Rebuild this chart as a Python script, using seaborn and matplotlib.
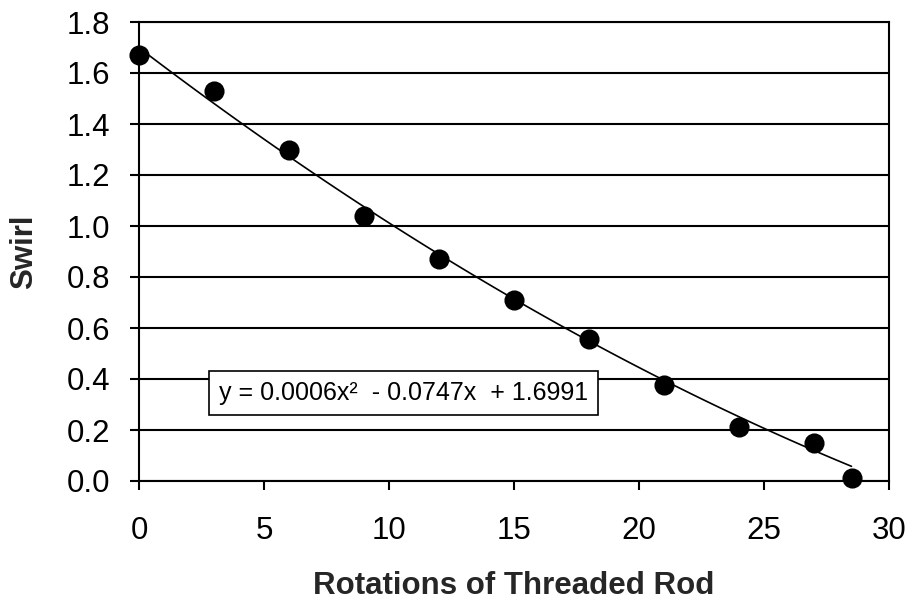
import numpy as np
import matplotlib
matplotlib.use("Agg")
import matplotlib.pyplot as plt
import seaborn as sns

# rotations of the threaded rod and measured swirl
rotations = [0, 3, 6, 9, 12, 15, 18, 21, 24, 27, 28.5]
swirl = [1.67, 1.53, 1.30, 1.04, 0.87, 0.71, 0.555, 0.375, 0.21, 0.15, 0.01]

# polynomial trendline coefficients (x^2, x, 1)
trend_coef = [0.0006, -0.0747, 1.6991]
trend_label = "y = 0.0006x\u00b2  - 0.0747x  + 1.6991"

x_ticks = [0, 5, 10, 15, 20, 25, 30]
y_ticks = [0.0, 0.2, 0.4, 0.6, 0.8, 1.0, 1.2, 1.4, 1.6, 1.8]

sns.set_theme(style="ticks")
plt.rcParams["font.family"] = ["Liberation Sans", "DejaVu Sans"]

fig, ax = plt.subplots(figsize=(9.13, 6.01), dpi=100)
fig.subplots_adjust(left=139 / 913, right=889 / 913, top=1 - 22 / 601, bottom=1 - 481 / 601)

for yv in y_ticks:
    ax.axhline(yv, color="black", lw=1.5, zorder=0)

trend_x = np.linspace(rotations[0], rotations[-1], 100)
trend_y = np.polyval(trend_coef, trend_x)
sns.lineplot(x=trend_x, y=trend_y, color="black", lw=1.2, ax=ax, zorder=2)
sns.scatterplot(x=rotations, y=swirl, color="black", s=180, edgecolor="black",
                ax=ax, zorder=3, clip_on=False)

ax.set_xlim(0, 30)
ax.set_ylim(0, 1.8)
ax.set_xticks(x_ticks)
ax.set_yticks(y_ticks)
ax.set_yticklabels([f"{v:.1f}" for v in y_ticks])
ax.tick_params(axis="both", labelsize=22.5, length=6.5, width=1.5, color="black",
               labelcolor="black")
ax.tick_params(axis="y", pad=14)
ax.tick_params(axis="x", pad=19)

for side in ["left", "bottom", "right", "top"]:
    ax.spines[side].set_color("black")
    ax.spines[side].set_linewidth(1.5)

ax.set_xlabel("Rotations of Threaded Rod", fontsize=22.5, fontweight="bold", labelpad=18)
ax.set_ylabel("Swirl", fontsize=22.5, fontweight="bold", labelpad=20)

ax.text(3.2, 0.345, trend_label, fontsize=18, color="black", va="center", ha="left",
        bbox=dict(boxstyle="square,pad=0.4", facecolor="white", edgecolor="black", lw=1.2),
        zorder=4)

fig.savefig("out.png", dpi=100)
